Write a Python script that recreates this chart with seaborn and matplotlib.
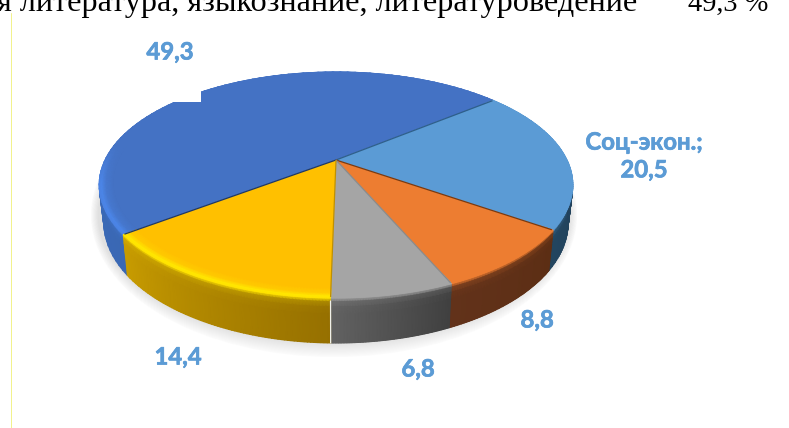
import numpy as np
import matplotlib
matplotlib.use("Agg")
import matplotlib.pyplot as plt
import matplotlib.patheffects as pe
from matplotlib.transforms import Transform
from matplotlib.patches import Rectangle, Ellipse
from matplotlib.colors import to_rgb
import seaborn as sns

values = [49.3, 20.5, 8.8, 6.8, 14.4]
label_prefix = ["", "Соц-экон.;\n", "", "", ""]
top_colors = ["#4472C4", "#5B9BD5", "#ED7D31", "#A5A5A5", "#FFC000"]
wall_left = ["#3F70C4", "#22455F", "#62321A", "#626262", "#C89C00"]
wall_right = ["#3A68B4", "#1F3D58", "#5C2E14", "#404040", "#967000"]
highlight = ["#4C86E8", "#5B9BD5", "#ED7D31", "#A5A5A5", "#FFE800"]
border_colors = ["#1F3864", "#2E5F8A", "#7A3A10", "#8A8A8A", "#BF9000"]
heading = "я литература, языкознание, литературоведение"
heading_value = "49,3 %"

sns.set_theme(style="white")
plt.rcParams["font.family"] = ["Lato", "DejaVu Sans"]

CX, CY, A, B, K = 336.0, 160.0, 231.0, 107.5, 0.221


def project(x, y):
    d = 1 + K * y
    return CX + A * x / d, CY - B * y / d


def wall(px, py, s):
    depth = (41 + (py - 235) * 0.064) * s
    return CX + (px - CX) * (1 - 0.02 * s), py + depth


class Tilt(Transform):
    input_dims = output_dims = 2
    is_separable = False
    has_inverse = False

    def transform_non_affine(self, values):
        v = np.asarray(values, float)
        return np.column_stack(project(v[:, 0], v[:, 1]))


def rgb(c):
    return np.array(to_rgb(c))


fig = plt.figure(figsize=(7.89, 4.28), dpi=100)
ax = fig.add_axes([0, 0, 1, 1])

wedges, _ = ax.pie(values, colors=sns.color_palette(top_colors),
                   startangle=217, counterclock=False, radius=1.0,
                   wedgeprops=dict(linewidth=0))
ax.set_aspect("auto")
ax.set_xlim(0, 789)
ax.set_ylim(428, 0)
ax.axis("off")

# soft floor shadow
for grow, shade in zip(np.linspace(1.0, 0, 14), np.linspace(0.985, 0.88, 14)):
    ax.add_patch(Ellipse((334, 215), 2 * (236 + 7 * grow), 2 * (128 + 14 * grow),
                         facecolor=(shade, shade, shade), edgecolor="none", zorder=0.5))

tilt = Tilt() + ax.transData
for w in wedges:
    w.set_transform(tilt)
    w.set_zorder(2)
    w.set_clip_on(False)

# bevel and wall of every slice as smooth shaded meshes
rim_r = [0.945, 0.975, 0.99, 1.0]
wall_s = [0.08, 0.2, 0.36, 1.0]
for w, cl, cr, tc, hl in zip(wedges, wall_left, wall_right, top_colors, highlight):
    th = np.radians(np.linspace(w.theta1, w.theta2, 80))
    f = np.linspace(0, 1, len(th))[None, :, None]
    body = rgb(cl) * (1 - f) + rgb(cr) * f
    fade = np.clip((0.15 - np.sin(th)) / 0.35, 0, 1)[None, :, None]
    T, H = rgb(tc), rgb(hl)
    rows_x, rows_y, rows_c = [], [], []
    # top-surface bevel rows
    for r, mixv in zip(rim_r, [0.0, 0.35, 1.0, 0.85]):
        x, y = project(r * np.cos(th), r * np.sin(th))
        rows_x.append(x)
        rows_y.append(y)
        base = T * (1 - mixv) + H * mixv
        rows_c.append((T * (1 - fade) + base * fade)[0])
    # wall rows
    px, py = project(np.cos(th), np.sin(th))
    for s, mixv in zip(wall_s, [0.4, 0.08, 0.0, 0.0]):
        x, y = wall(px, py, s)
        rows_x.append(x)
        rows_y.append(y)
        rows_c.append((body * (1 - mixv) + (H * 0.55 + body * 0.45) * mixv)[0])
    X = np.array(rows_x)
    Y = np.array(rows_y)
    C = np.array(rows_c)
    # separate the wall (behind the top face) from the bevel (over it)
    ax.pcolormesh(X[3:], Y[3:], C[3:], shading="gouraud", zorder=1)
    ax.pcolormesh(X[:4], Y[:4], C[:4], shading="gouraud", zorder=2.5)

# dark edges between slices
for w, bc in zip(wedges, border_colors):
    t = np.radians(w.theta2)
    x, y = project(np.array([0, 0.995 * np.cos(t)]), np.array([0, 0.995 * np.sin(t)]))
    ax.plot(x, y, color=bc, lw=0.9, zorder=3, solid_capstyle="butt")

# white seam on the wall between grey and gold
t3 = np.radians(wedges[3].theta1)
gx, gy = project(np.cos(t3), np.sin(t3))
gx2, gy2 = wall(gx, gy, 1)
ax.plot([gx, gx2], [gy + 3, gy2], color="#F0F0E8", lw=0.9, zorder=3)

# cut-out block over the back rim
ax.add_patch(Rectangle((168, 84), 33, 18, facecolor="white", edgecolor="none", zorder=4))

# thin page rule
ax.plot([11, 11], [13, 428], color="#F2F28A", lw=0.7, zorder=1)

label_xy = [(170, 52), (644, 156), (537, 320), (418, 369), (178, 357)]
for v, pre, (x, y) in zip(values, label_prefix, label_xy):
    ax.text(x, y, pre + f"{v:.1f}".replace(".", ","), color="#5B9BD5", fontsize=17.2,
            fontweight="bold", ha="center", va="center", linespacing=1.25, zorder=5,
            path_effects=[pe.withStroke(linewidth=0.5, foreground="#5B9BD5")])

ax.text(-3, 11, heading, family="Liberation Serif", fontsize=23.2, color="black",
        ha="left", va="baseline", zorder=5)
ax.text(688, 11, heading_value, family="Liberation Serif", fontsize=20.5, color="black",
        ha="left", va="baseline", zorder=5)

fig.savefig("out.png", dpi=100, facecolor="white")
